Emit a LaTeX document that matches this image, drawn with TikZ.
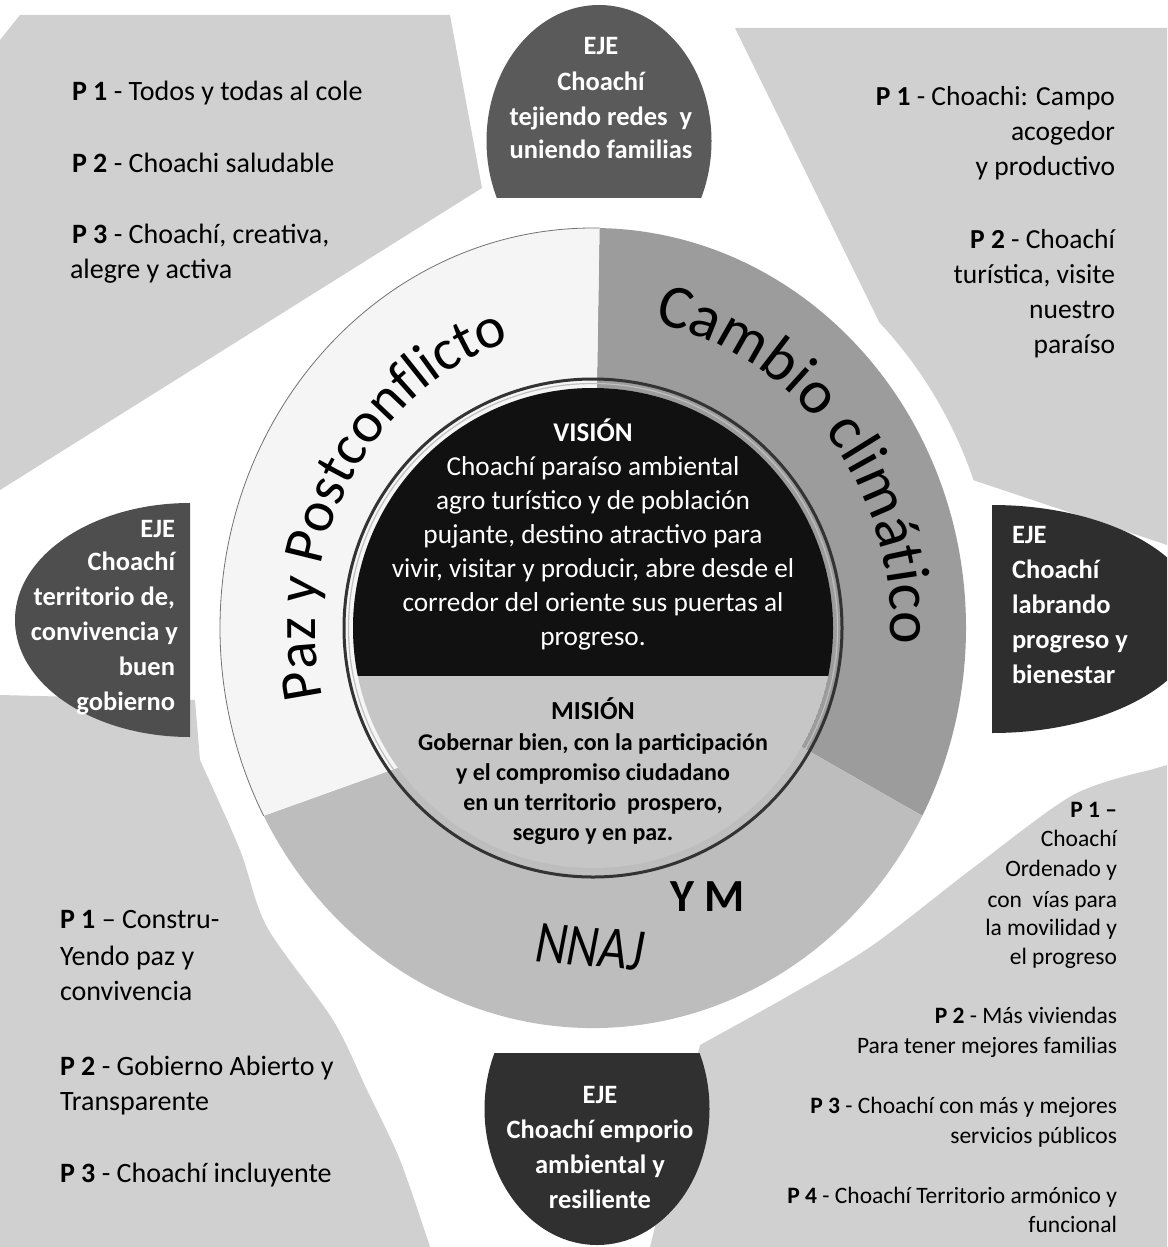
\documentclass[tikz,border=0pt]{standalone}
\usepackage{fontspec}
\setmainfont{Carlito}
\usetikzlibrary{decorations.text}
\definecolor{cornerc}{HTML}{D0D0D0}
\definecolor{cambioc}{HTML}{9C9C9C}
\definecolor{nnajc}{HTML}{BDBDBD}
\definecolor{pazc}{HTML}{F5F5F5}
\definecolor{misionc}{HTML}{C6C6C6}
\definecolor{visionc}{HTML}{111111}
\definecolor{ejetopc}{HTML}{5A5A5A}
\definecolor{ejeleftc}{HTML}{4E4E4E}
\definecolor{ejerightc}{HTML}{2E2E2E}
\definecolor{ejebotc}{HTML}{303030}
\tikzset{
  txt/.style={inner sep=0pt, outer sep=0pt},
  tlt/.style={txt, anchor=base west, font=\fontsize{28}{34}\selectfont},
  trt/.style={txt, anchor=base east, font=\fontsize{27.5}{34}\selectfont},
  brt/.style={txt, anchor=base east, font=\fontsize{23.5}{28}\selectfont},
  ejet/.style={txt, text=white, font=\bfseries\fontsize{26.5}{32}\selectfont},
  vist/.style={txt, anchor=base, text=white, font=\fontsize{27.3}{32}\selectfont},
  mist/.style={txt, anchor=base, text=black, font=\bfseries\fontsize{24}{30}\selectfont},
}
\begin{document}
\begin{tikzpicture}[x=1pt,y=1pt]
\useasboundingbox (0,0) rectangle (1167,-1247);
\fill[white] (0,0) rectangle (1167,-1247);
\coordinate (C) at (593,-628);
% corner regions
\fill[cornerc] (0,-40) -- (20,-15) -- (450,-15) -- (482,-188) -- (0,-490) -- cycle;
\fill[cornerc] (735,-28) -- (1167,-28) -- (1167,-545) -- (973.6,-480.2)
  arc[start angle=20, end angle=45, x radius=405, y radius=432] -- cycle;
\fill[cornerc] (1167,-765) -- plot[smooth] coordinates {(1150,-770) (1073,-795) (973,-868) (873,-945) (790,-995) (700,-1045)} -- (650,-1247) -- (1167,-1247) -- cycle;
\fill[cornerc] (0,-695) -- (195,-700) -- plot[smooth] coordinates {(200,-760) (240,-850) (267,-927) (333,-1020) (367,-1090) (400,-1160) (430,-1247)} -- (0,-1247) -- cycle;
% ring sectors
\fill[cambioc] (C) -- ++(89:373 and 400) arc[start angle=89, end angle=-28, x radius=373, y radius=400] -- cycle;
\fill[nnajc] (C) -- ++(-28:373 and 400) arc[start angle=-28, end angle=-152, x radius=373, y radius=400] -- (397,-768) -- cycle;
\fill[pazc] (C) -- ++(89:373 and 400) arc[start angle=89, end angle=208, x radius=373, y radius=400] -- (397,-768) -- cycle;
\draw[black!55, line width=0.8pt] (C) ++(89:373 and 400) arc[start angle=89, end angle=208, x radius=373, y radius=400];
% inner disc
\begin{scope}
  \clip (C) circle[radius=240];
  \fill[misionc] (C) circle[radius=240];
  \fill[visionc] (340,-380) rectangle (850,-676);
\end{scope}
\draw[black!25, line width=1.2pt] (C) circle[radius=244.5];
\draw[black!80, line width=3pt] (C) circle[radius=249];
% EJE shapes
\begin{scope}
  \clip (470,-197) rectangle (730,0);
  \fill[ejetopc] (599,-141) ellipse[x radius=112.5, y radius=136];
\end{scope}
\begin{scope}
  \clip (470,-1053) rectangle (730,-1247);
  \fill[ejebotc] (597,-1109) ellipse[x radius=112.5, y radius=136];
\end{scope}
\begin{scope}
  \clip (0,-490) rectangle (190,-750);
  \fill[ejeleftc] (190,-620) ellipse[x radius=175, y radius=117];
\end{scope}
\begin{scope}
  \clip (992,-490) rectangle (1167,-750);
  \fill[ejerightc] (992,-619) ellipse[x radius=208, y radius=114];
\end{scope}
% curved ring labels
\path[decorate, decoration={text along path, text align=center,
  text={|\fontsize{58}{58}\selectfont|Paz y Postconflicto}}]
  (C) ++(205:278 and 300) arc[start angle=205, end angle=95, x radius=278, y radius=300];
\path[decorate, decoration={text along path, text align=center,
  text={|\fontsize{62}{62}\selectfont|Cambio climático}}]
  (C) ++(95:298 and 312) arc[start angle=95, end angle=-19, x radius=298, y radius=312];
\node[txt, anchor=base west, font=\bfseries\fontsize{46}{46}\selectfont] (ym) at (670,-911) {Y M};
\begin{scope}[shift={(588,-966)}, rotate=-5, xscale=0.82]
  \node[txt, anchor=base, transform shape, font=\itshape\fontsize{60}{60}\selectfont] (nnaj) at (0,0) {NNAJ};
\end{scope}
% EJE texts
\node[ejet, anchor=base] (et1) at (601,-55) {EJE};
\node[ejet, anchor=base] (et2) at (601,-90) {Choachí};
\node[ejet, anchor=base] (et3) at (601,-125) {tejiendo redes\ \ y};
\node[ejet, anchor=base] (et4) at (601,-158) {uniendo familias};
\node[ejet, anchor=base east] (el1) at (175,-537) {EJE};
\node[ejet, anchor=base east] (el2) at (175,-570) {Choachí};
\node[ejet, anchor=base east] (el3) at (175,-605) {territorio de,};
\node[ejet, anchor=base east] (el4) at (178,-640) {convivencia y};
\node[ejet, anchor=base east] (el5) at (175,-675) {buen};
\node[ejet, anchor=base east] (el6) at (175,-710) {gobierno};
\node[ejet, anchor=base west] (er1) at (1012,-543) {EJE};
\node[ejet, anchor=base west] (er2) at (1012,-578) {Choachí};
\node[ejet, anchor=base west] (er3) at (1012,-613) {labrando};
\node[ejet, anchor=base west] (er4) at (1012,-648) {progreso y};
\node[ejet, anchor=base west] (er5) at (1012,-683) {bienestar};
\node[ejet, anchor=base] (eb1) at (600,-1103) {EJE};
\node[ejet, anchor=base] (eb2) at (600,-1138) {Choachí emporio};
\node[ejet, anchor=base] (eb3) at (600,-1173) {ambiental y};
\node[ejet, anchor=base] (eb4) at (600,-1208) {resiliente};
% Vision / Mision
\node[vist, font=\bfseries\fontsize{27}{32}\selectfont] (v0) at (593,-441) {VISIÓN};
\node[vist] (v1) at (593,-475) {Choachí paraíso ambiental};
\node[vist] (v2) at (593,-509) {agro turístico y de población};
\node[vist] (v3) at (593,-543) {pujante, destino atractivo para};
\node[vist] (v4) at (593,-577) {vivir, visitar y producir, abre desde el};
\node[vist] (v5) at (593,-611) {corredor del oriente sus puertas al};
\node[vist] (v6) at (593,-645) {progreso.};
\node[mist, font=\bfseries\fontsize{26}{30}\selectfont] (m0) at (593,-719) {MISIÓN};
\node[mist] (m1) at (593,-750) {Gobernar bien, con la participación};
\node[mist] (m2) at (593,-780) {y el compromiso ciudadano};
\node[mist] (m3) at (593,-810) {en un territorio\ \ prospero,};
\node[mist] (m4) at (593,-840) {seguro y en paz.};
% corner texts
\node[tlt] (tl1) at (72,-100) {\textbf{P 1} - Todos y todas al cole};
\node[tlt] (tl2) at (72,-172) {\textbf{P 2} - Choachi saludable};
\node[tlt] (tl3) at (72,-243) {\textbf{P 3} - Choachí, creativa,};
\node[tlt] (tl4) at (70,-278) {alegre y activa};
\node[trt] (tr1) at (1115,-105) {\textbf{P 1} - Choachi: Campo};
\node[trt] (tr2) at (1115,-140) {acogedor};
\node[trt] (tr3) at (1115,-175) {y productivo};
\node[trt] (tr4) at (1115,-248) {\textbf{P 2} - Choachí};
\node[trt] (tr5) at (1115,-283) {turística, visite};
\node[trt] (tr6) at (1115,-318) {nuestro};
\node[trt] (tr7) at (1115,-353) {paraíso};
\node[tlt] (bl1) at (60,-928) {\textbf{P 1} – Constru-};
\node[tlt] (bl2) at (60,-965) {Yendo paz y};
\node[tlt] (bl3) at (60,-1000) {convivencia};
\node[tlt] (bl4) at (60,-1075) {\textbf{P 2} - Gobierno Abierto y};
\node[tlt] (bl5) at (60,-1110) {Transparente};
\node[tlt] (bl6) at (60,-1182) {\textbf{P 3} - Choachí incluyente};
\node[brt] (br1) at (1117,-817) {\textbf{P 1 –}};
\node[brt] (br2) at (1117,-846) {Choachí};
\node[brt] (br3) at (1117,-876) {Ordenado y};
\node[brt] (br4) at (1117,-907) {con\ \ vías para};
\node[brt] (br5) at (1117,-935) {la movilidad y};
\node[brt] (br6) at (1117,-964) {el progreso};
\node[brt] (br7) at (1117,-1023) {\textbf{P 2} - Más viviendas};
\node[brt] (br8) at (1117,-1053) {Para tener mejores familias};
\node[brt] (br9) at (1117,-1113) {\textbf{P 3} - Choachí con más y mejores};
\node[brt] (br10) at (1117,-1143) {servicios públicos};
\node[brt] (br11) at (1117,-1203) {\textbf{P 4} - Choachí Territorio armónico y};
\node[brt] (br12) at (1117,-1232) {funcional};
\end{tikzpicture}
\end{document}
